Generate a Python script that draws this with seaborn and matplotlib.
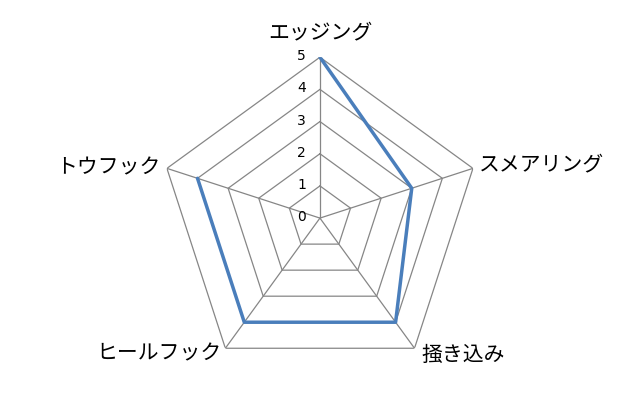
import numpy as np
import pandas as pd
import matplotlib
matplotlib.use('Agg')
import matplotlib.pyplot as plt
import seaborn as sns

# axis labels (clockwise from top) and scores
categories = ['エッジング', 'スメアリング', '掻き込み', 'ヒールフック', 'トウフック']
scores = [5, 3, 4, 4, 4]
ticks = [0, 1, 2, 3, 4, 5]

sns.set_style('white')
plt.rcParams['font.family'] = ['Noto Sans CJK JP', 'DejaVu Sans']

n = len(categories)
angles = np.linspace(0, 2 * np.pi, n, endpoint=False)

# closed polygon for the series
df = pd.DataFrame({
    'angle': np.append(angles, angles[0]),
    'score': scores + scores[:1],
})

fig = plt.figure(figsize=(6.4, 4.19), dpi=100)
ax = fig.add_axes([0.2484, 0.0955, 0.503, 0.768], polar=True)
ax.set_theta_offset(np.pi / 2)
ax.set_theta_direction(-1)
ax.set_ylim(0, 5)

# pentagon grid and spokes
grid_col = '#868686'
closed = np.append(angles, angles[0])
for t in ticks[1:]:
    ax.plot(closed, [t] * (n + 1), color=grid_col, lw=0.9, zorder=1)
for a in angles:
    ax.plot([a, a], [0, 5], color=grid_col, lw=0.9, zorder=1)

sns.lineplot(data=df, x='angle', y='score', sort=False, color='#4A7EBB',
             lw=2.5, ax=ax, zorder=3)

ax.grid(False)
ax.spines['polar'].set_visible(False)
ax.set_xticks([])
ax.set_yticks([])
ax.set_xlabel('')
ax.set_ylabel('')

# radial tick labels to the left of the top spoke
for t in ticks:
    ax.annotate(str(t), xy=(0, t), xytext=(-14, 1), textcoords='offset pixels',
                ha='right', va='center', fontsize=10, color='#000000',
                family=['DejaVu Sans'])

# category labels
offsets = [((0, 25), 'center'), ((6, 4), 'left'), ((7, -7), 'left'),
           ((-4, -5), 'right'), ((-6, 1), 'right')]
for a, lab, (off, ha) in zip(angles, categories, offsets):
    ax.annotate(lab, xy=(a, 5), xytext=off, textcoords='offset pixels',
                ha=ha, va='center', fontsize=15, color='#000000')

fig.savefig('out.png', dpi=100)
